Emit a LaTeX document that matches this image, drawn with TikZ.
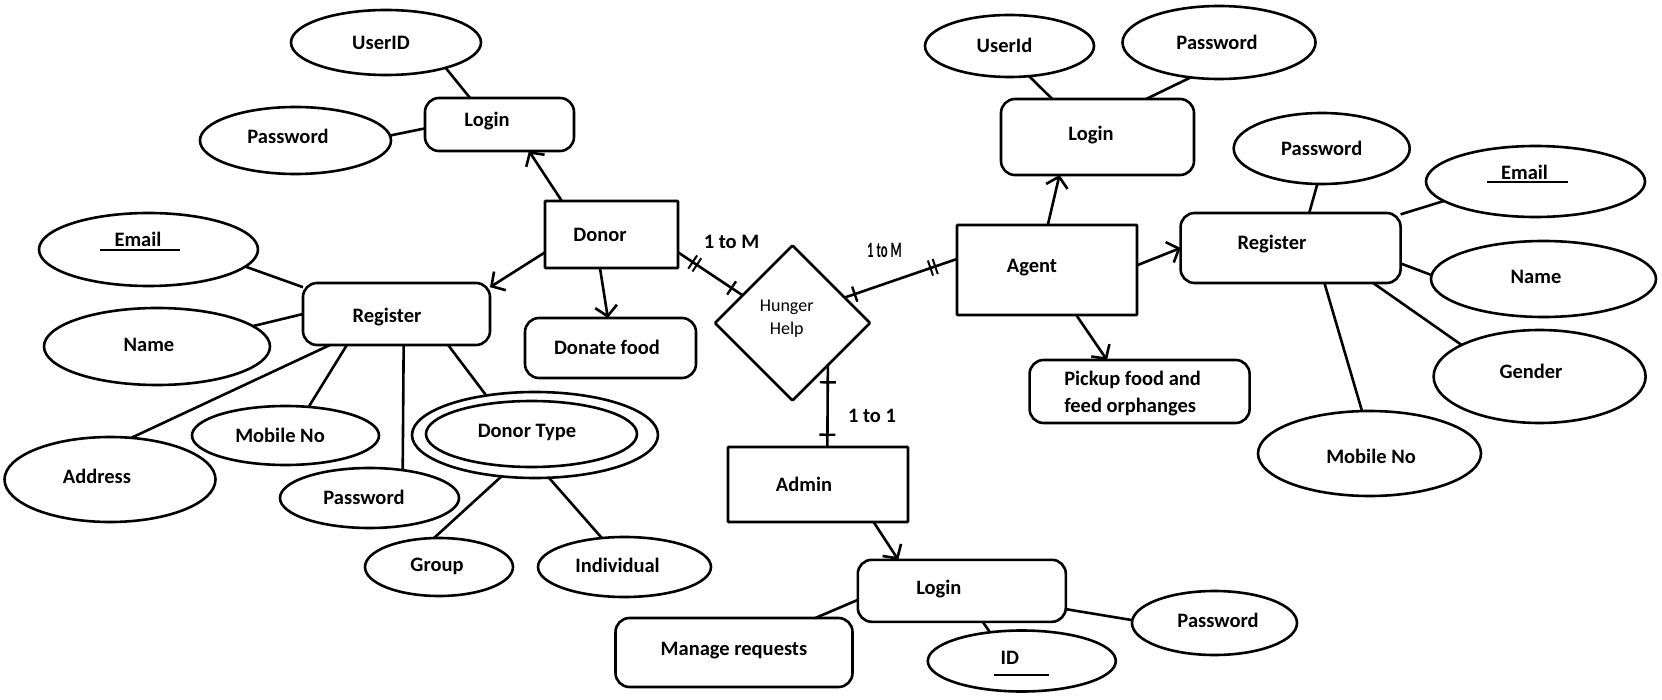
\documentclass[tikz,border=0pt]{standalone}
\usepackage{fontspec}
\setmainfont{Carlito}
\usepackage{graphicx}
\usetikzlibrary{shapes.geometric,arrows.meta,decorations.markings}
\begin{document}
\begin{tikzpicture}[x=1pt,y=-1pt,
  base/.style={draw, line width=2.6pt, inner sep=0pt, outer sep=0pt},
  attr/.style={base, ellipse},
  ent/.style={base, rectangle, rounded corners=0.8pt},
  rbox/.style={base, rectangle, rounded corners=14pt},
  sz/.style 2 args={minimum width=#1pt, minimum height=#2pt},
  txt/.style={font=\fontsize{20.5}{24}\selectfont\bfseries, inner sep=0pt, outer sep=0pt},
  conn/.style={line width=2.6pt},
  arr/.style={conn, -{Straight Barb[length=10pt,width=22pt]}},
  onebar/.style={postaction={decorate, decoration={markings, mark=at position #1 with {\draw[line width=2.4pt] (0pt,-8pt) -- (0pt,8pt);}}}},
  twobar/.style={postaction={decorate, decoration={markings, mark=at position #1 with {\draw[line width=2pt] (-2.5pt,-8pt) -- (-2.5pt,8pt) (2.5pt,-8pt) -- (2.5pt,8pt);}}}},
]
\fill[white] (0,0) rectangle (1662,700);
\useasboundingbox (0,0) rectangle (1662,700);

% ---------- Donor side ----------
\node[attr, sz={190}{65}, label={[txt,xshift=-5pt]center:UserID}] (d_uid) at (386,42.5) {};
\node[rbox, sz={149}{53}, label={[txt,xshift=-12.5pt,yshift=3.5pt]center:Login}] (d_login) at (499.5,124.5) {};
\node[attr, sz={191}{67}, label={[txt,xshift=-7.5pt,yshift=4.5pt]center:Password}] (d_pw) at (295.5,140.5) {};
\node[ent, sz={133}{67}, label={[txt,xshift=-11.5pt]center:Donor}] (donor) at (611.5,234.5) {};
\node[attr, sz={219}{73}, label={[txt,xshift=-10.5pt,yshift=10.5pt]center:Email}] (d_email) at (148.5,249.5) {};
\node[rbox, sz={187}{62}, label={[txt,xshift=-9.5pt,yshift=-3pt]center:Register}] (d_reg) at (396.5,314) {};
\node[attr, sz={226}{77}, label={[txt,xshift=-8pt,yshift=1.5pt]center:Name}] (d_name) at (157,346.5) {};
\node[rbox, sz={171}{60}, label={[txt,xshift=-3.5pt,yshift=1pt]center:Donate food}] (d_food) at (610.5,348) {};
\node[attr, sz={187}{59}, label={[txt,xshift=-5.5pt]center:Mobile No}] (d_mob) at (285.5,435.5) {};
\node[attr, sz={211}{85}, label={[txt,xshift=-13pt,yshift=3.5pt]center:Address}] (d_addr) at (110,479.5) {};
\node[attr, sz={179}{60}, label={[txt,xshift=-5.5pt,yshift=1pt]center:Password}] (d_pw2) at (369.5,498) {};
\node[attr, sz={246}{86}, label={[txt,xshift=-8pt,yshift=3pt]center:Donor Type}] (d_type) at (535,435) {};
\draw[line width=2.6pt] ([shift={(-3.5,-1)}]d_type.center) ellipse [x radius=105.5pt, y radius=33pt];
\node[attr, sz={148}{58}, label={[txt,xshift=-2pt,yshift=1pt]center:Group}] (d_group) at (439,567) {};
\node[attr, sz={173}{60}, label={[txt,xshift=-7pt,yshift=2pt]center:Individual}] (d_indiv) at (624.5,567) {};

% ---------- centre ----------
\node[base, diamond, rounded corners=0.8pt, sz={155}{155}, label={[font=\fontsize{18}{23}\selectfont, align=center, inner sep=0pt, xshift=-5.8pt, yshift=4.5pt]center:{Hunger\\Help}}] (hh) at (792.5,323) {};
\node[ent, sz={180}{75}, label={[txt,xshift=-14pt]center:Admin}] (admin) at (818,484.5) {};
\node[rbox, sz={208}{62}, label={[txt,xshift=-23pt,yshift=2pt]center:Login}] (ad_login) at (961.8,590.8) {};
\node[rbox, sz={237}{69}, label={[txt,yshift=1.5pt]center:Manage requests}] (ad_manage) at (734,652.5) {};
\node[attr, sz={188}{61}, label={[txt,xshift=-12pt,yshift=3pt]center:ID}] (ad_id) at (1021.8,661) {};
\node[attr, sz={165}{64}, label={[txt,xshift=3.5pt,yshift=3pt]center:Password}] (ad_pw) at (1214.5,623) {};

% ---------- Agent side ----------
\node[attr, sz={169}{62}, label={[txt,xshift=-5pt,yshift=1pt]center:UserId}] (a_uid) at (1009.5,46) {};
\node[attr, sz={193}{73}, label={[txt,xshift=-2pt]center:Password}] (a_pw) at (1219,42.5) {};
\node[rbox, sz={193}{76}, label={[txt,xshift=-6.5pt,yshift=2pt]center:Login}] (a_login) at (1097.5,137) {};
\node[ent, sz={180}{90}, label={[txt,xshift=-15pt,yshift=2pt]center:Agent}] (agent) at (1047,270) {};
\node[rbox, sz={220}{70}, label={[txt,xshift=-18.6pt,yshift=4pt]center:Register}] (a_reg) at (1290.6,248) {};
\node[attr, sz={176}{71}, label={[txt]center:Password}] (a_pw2) at (1321.7,148.5) {};
\node[attr, sz={219}{71}, label={[txt,xshift=-11pt,yshift=9.5pt]center:Email}] (a_email) at (1535.5,181.5) {};
\node[attr, sz={225}{76}, label={[txt,xshift=-7.5pt,yshift=2pt]center:Name}] (a_name) at (1543.5,279) {};
\node[attr, sz={212}{93}, label={[txt,xshift=-8.6pt,yshift=5.5pt]center:Gender}] (a_gender) at (1539.6,376.5) {};
\node[attr, sz={223}{85}, label={[txt,xshift=1.5pt,yshift=-2.5pt]center:Mobile No}] (a_mob) at (1369.5,453.5) {};
\node[rbox, sz={220}{63}, label={[txt,font=\fontsize{20.5}{27}\selectfont\bfseries,align=left,xshift=-7pt,yshift=-2pt]center:{Pickup food and\\feed orphanges}}] (a_pick) at (1139.6,391.5) {};

% ---------- underlines ----------
\draw[line width=2.4pt] ([shift={(-48.5,0.5)}]d_email.center) -- ++(80,0);
\draw[line width=2.4pt] ([shift={(-48.5,0.5)}]a_email.center) -- ++(80.6,0);
\draw[line width=2.4pt] ([shift={(-28,14)}]ad_id.center) -- ++(55,0);

% ---------- connectors: donor side ----------
\draw[conn] (d_uid.-23) -- (d_login.138);
\draw[conn] (d_pw.3) -- (d_login.-177);
\draw[arr] (donor.146) -- (d_login.-42);
\draw[arr] (donor.195) -- (d_reg.16);
\draw[conn] (d_email.-10) -- (d_reg.164);
\draw[conn] (d_name.12) -- (d_reg.180);
\draw[arr] (donor.-109) -- (d_food.95);
\draw[conn] (d_reg.-155) -- (d_addr.63);
\draw[conn] (d_reg.-148) -- (d_mob.51);
\draw[conn] (d_reg.-77) -- (d_pw2.40);
\draw[conn] (d_reg.-31) -- (d_type.141);
\draw[conn] (d_type.-129) -- (d_group.100);
\draw[conn] (d_type.-72) -- (d_indiv.128);

% ---------- relationships ----------
\draw[conn, twobar=0.26, onebar=0.83] (donor.-15) -- (hh.151);
\draw[conn, onebar=0.09, twobar=0.785] (hh.26) -- (agent.173);
\draw[conn, onebar=0.21, onebar=0.85] (hh.-50) -- (admin.76);
\node[txt] (l_dm) at (731.5,242) {1 to M};
\node[font=\fontsize{22}{24}\selectfont\bfseries, inner sep=0pt] (l_am) at (884.5,250) {\scalebox{0.58}[1]{1 to M}};
\node[txt] (l_ad) at (872,416) {1 to 1};

% ---------- admin ----------
\draw[arr] (admin.-34) -- (ad_login.154);
\draw[conn] (ad_login.-175) -- (ad_manage.23);
\draw[conn] (ad_login.-56) -- (ad_id.138);
\draw[conn] (ad_login.-10) -- (ad_pw.178);

% ---------- agent side ----------
\draw[arr] (agent.89) -- (a_login.-135);
\draw[arr] (agent.3) -- (a_reg.180);
\draw[arr] (agent.-57) -- (a_pick.136);
\draw[conn] (a_uid.-57) -- (a_login.140);
\draw[conn] (a_pw.-129) -- (a_login.38);
\draw[conn] (a_pw2.-97) -- (a_reg.62);
\draw[conn] (a_email.-168) -- (a_reg.17);
\draw[conn] (a_name.178) -- (a_reg.-8);
\draw[conn] (a_gender.158) -- (a_reg.-23);
\draw[conn] (a_mob.100) -- (a_reg.-46);
\end{tikzpicture}
\end{document}
